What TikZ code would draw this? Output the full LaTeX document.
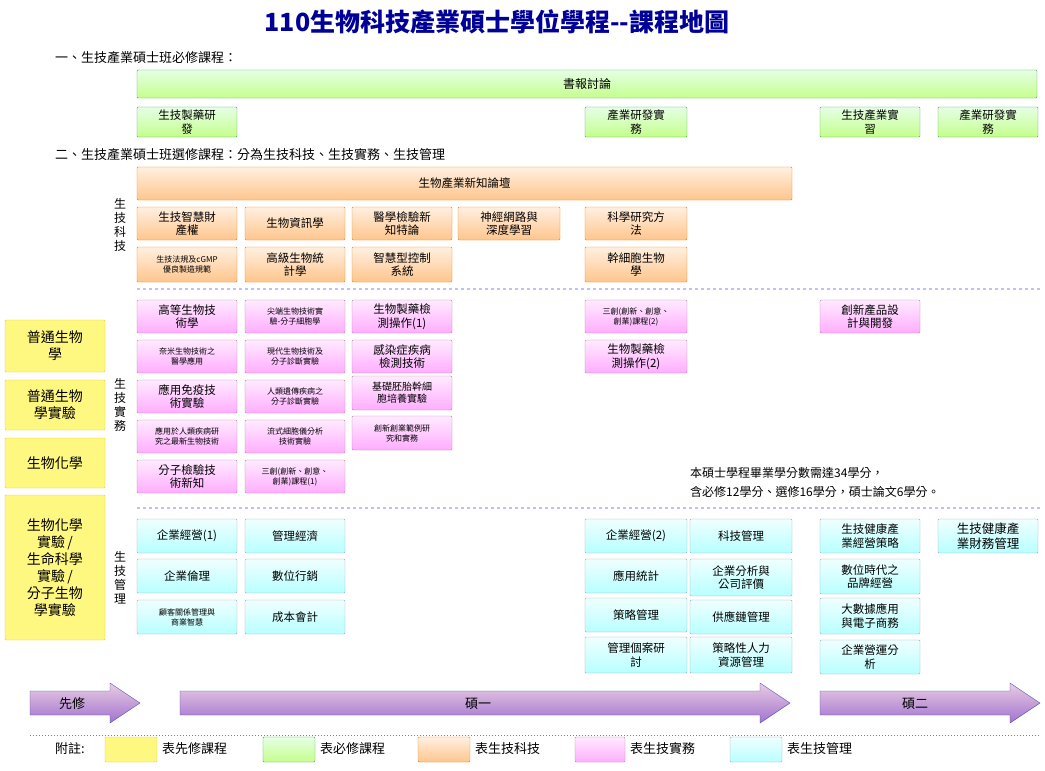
\documentclass[tikz,border=0pt]{standalone}
\usepackage{fontspec}
\setmainfont{Noto Sans CJK TC}
\begin{document}
\begin{tikzpicture}[x=1pt,y=-1pt,
 base/.style={draw,rounded corners=1pt,inner sep=0pt,align=center,font=\fontsize{11.5}{13.5}\selectfont},
 gr/.style={base,draw=green!50!black!70,top color=green!10,bottom color=green!35!lime!45},
 og/.style={base,draw=orange!70!brown,top color=orange!12,bottom color=orange!45},
 pk/.style={base,draw=magenta!50!black!60,top color=magenta!8,bottom color=magenta!32},
 tl/.style={base,draw=cyan!40!black!50,top color=cyan!6,bottom color=cyan!28},
 yl/.style={base,draw=yellow!60!brown,fill=yellow!50,font=\fontsize{14}{17}\selectfont},
 small/.style={font=\fontsize{8}{10}\selectfont},
 vl/.style={align=center,font=\fontsize{12}{14}\selectfont,inner sep=0pt},
 hd/.style={anchor=west,font=\fontsize{13}{15}\selectfont,inner sep=0pt},
 arr/.style={draw=blue!50!black!70,top color=blue!25!purple!20,bottom color=blue!55!purple!55},
 lab/.style={font=\fontsize{13}{15}\selectfont,inner sep=0pt}]
\useasboundingbox (0,0) rectangle (1045,771);
\newcommand\bx[7]{\pgfmathsetmacro\bw{#5-#3}\pgfmathsetmacro\bh{#6-#4}%
 \node[#1,minimum width=\bw pt,minimum height=\bh pt] (#2) at ({(#3+#5)/2},{(#4+#6)/2}) {#7};}
\node[font=\bfseries\fontsize{25}{28}\selectfont,text=blue!60!black] (title) at (497,22) {110生物科技產業碩士學位學程{-}{-}課程地圖};
\node[hd] (h1) at (55,58) {一、生技產業碩士班必修課程：};
\bx{gr,font=\fontsize{12}{14}\selectfont}{g0}{137}{70}{1037}{98}{書報討論}
\bx{gr}{g1}{137}{107}{237}{137}{生技製藥研\\發}
\bx{gr}{g2}{585}{107}{687}{137}{產業研發實\\務}
\bx{gr}{g3}{820}{107}{920}{137}{生技產業實\\習}
\bx{gr}{g4}{938}{107}{1038}{137}{產業研發實\\務}
\node[hd] (h2) at (55,155) {二、生技產業碩士班選修課程：分為生技科技、生技實務、生技管理};
\bx{og}{o0}{137}{167}{792}{200}{生物產業新知論壇}
\bx{og}{o1}{137}{207}{237}{240}{生技智慧財\\產權}
\bx{og}{o2}{245}{207}{345}{240}{生物資訊學}
\bx{og}{o3}{352}{207}{452}{240}{醫學檢驗新\\知特論}
\bx{og}{o4}{458}{207}{560}{240}{神經網路與\\深度學習}
\bx{og}{o5}{585}{207}{687}{240}{科學研究方\\法}
\bx{og,small}{o6}{137}{247}{237}{282}{生技法規及cGMP\\優良製造規範}
\bx{og}{o7}{245}{247}{345}{282}{高級生物統\\計學}
\bx{og}{o8}{352}{247}{452}{282}{智慧型控制\\系統}
\bx{og}{o9}{585}{247}{687}{282}{幹細胞生物\\學}
\node[vl] (v1) at (120,225) {生\\技\\科\\技};
\draw[dashed,line width=2.5pt,draw=blue!25] (137,289) -- (1040,289) coordinate (d1);
\bx{pk}{p1}{137}{300}{237}{333}{高等生物技\\術學}
\bx{pk,small}{p2}{137}{340}{237}{373}{奈米生物技術之\\醫學應用}
\bx{pk}{p3}{137}{380}{237}{413}{應用免疫技\\術實驗}
\bx{pk,small}{p4}{137}{420}{237}{453}{應用於人類疾病研\\究之最新生物技術}
\bx{pk}{p5}{137}{460}{237}{493}{分子檢驗技\\術新知}
\bx{pk,small}{q1}{245}{300}{345}{333}{尖端生物技術實\\驗-分子細胞學}
\bx{pk,small}{q2}{245}{340}{345}{373}{現代生物技術及\\分子診斷實驗}
\bx{pk,small}{q3}{245}{380}{345}{413}{人類遺傳疾病之\\分子診斷實驗}
\bx{pk,small}{q4}{245}{420}{345}{453}{流式細胞儀分析\\技術實驗}
\bx{pk,small}{q5}{245}{460}{345}{493}{三創(創新、創意、\\創業)課程(1)}
\bx{pk}{r1}{352}{300}{452}{333}{生物製藥檢\\測操作(1)}
\bx{pk}{r2}{352}{340}{452}{373}{感染症疾病\\檢測技術}
\bx{pk,font=\fontsize{10}{12}\selectfont}{r3}{352}{376}{452}{410}{基礎胚胎幹細\\胞培養實驗}
\bx{pk,small}{r4}{352}{416}{452}{450}{創新創業範例研\\究和實務}
\bx{pk,small}{s1}{585}{300}{687}{333}{三創(創新、創意、\\創業)課程(2)}
\bx{pk}{s2}{585}{340}{687}{373}{生物製藥檢\\測操作(2)}
\bx{pk}{s3}{820}{300}{920}{333}{創新產品設\\計與開發}
\node[vl] (v2) at (120,405) {生\\技\\實\\務};
\bx{yl}{y1}{5}{320}{105}{372}{普通生物\\學}
\bx{yl}{y2}{5}{380}{105}{430}{普通生物\\學實驗}
\bx{yl}{y3}{5}{438}{105}{488}{生物化學}
\bx{yl}{y4}{5}{495}{105}{640}{生物化學\\實驗\,/\\生命科學\\實驗\,/\\分子生物\\學實驗}
\node[anchor=west,align=left,font=\fontsize{12}{19}\selectfont,inner sep=0pt] (note) at (690,482) {本碩士學程畢業學分數需達34學分，\\含必修12學分、選修16學分，碩士論文6學分。};
\draw[dashed,line width=1.2pt,draw=blue!25] (137,508) -- (1040,508) coordinate (d2);
\bx{tl}{t1}{137}{519}{237}{553}{企業經營(1)}
\bx{tl}{t2}{137}{559}{237}{593}{企業倫理}
\bx{tl,small}{t3}{137}{600}{237}{634}{顧客關係管理與\\商業智慧}
\bx{tl}{u1}{245}{519}{345}{553}{管理經濟}
\bx{tl}{u2}{245}{559}{345}{593}{數位行銷}
\bx{tl}{u3}{245}{600}{345}{634}{成本會計}
\bx{tl}{w1}{585}{519}{687}{553}{企業經營(2)}
\bx{tl}{w2}{585}{559}{687}{593}{應用統計}
\bx{tl}{w3}{585}{598}{687}{632}{策略管理}
\bx{tl}{w4}{585}{637}{687}{673}{管理個案研\\討}
\bx{tl}{x1}{690}{519}{792}{553}{科技管理}
\bx{tl}{x2}{690}{559}{792}{596}{企業分析與\\公司評價}
\bx{tl}{x3}{690}{600}{792}{634}{供應鏈管理}
\bx{tl}{x4}{690}{637}{792}{673}{策略性人力\\資源管理}
\bx{tl}{z1}{820}{519}{920}{553}{生技健康產\\業經營策略}
\bx{tl}{z2}{820}{559}{920}{594}{數位時代之\\品牌經營}
\bx{tl}{z3}{820}{598}{920}{634}{大數據應用\\與電子商務}
\bx{tl}{z4}{820}{640}{920}{674}{企業營運分\\析}
\bx{tl,font=\fontsize{12.5}{14.5}\selectfont}{z5}{938}{519}{1038}{553}{生技健康產\\業財務管理}
\node[vl] (v3) at (120,578) {生\\技\\管\\理};
\path[arr] (30,691) -- (110,691) -- (110,683) -- (140,703) -- (110,723) -- (110,715) -- (30,715) -- cycle;
\path[arr] (180,691) -- (760,691) -- (760,683) -- (790,703) -- (760,723) -- (760,715) -- (180,715) -- cycle;
\path[arr] (820,691) -- (1010,691) -- (1010,683) -- (1040,703) -- (1010,723) -- (1010,715) -- (820,715) -- cycle;
\node[lab] (a1) at (72,704) {先修};
\node[lab] (a2) at (478,704) {碩一};
\node[lab] (a3) at (915,704) {碩二};
\draw[dotted,line width=1pt,draw=gray] (30,735) -- (1040,735) coordinate (d3);
\node[hd] (fn) at (55,749) {附註:};
\path[yl] (105,737) rectangle (157,762); \node[hd] (l1) at (162,749) {表先修課程};
\path[gr] (263,737) rectangle (315,762); \node[hd] (l2) at (320,749) {表必修課程};
\path[og] (418,737) rectangle (470,762); \node[hd] (l3) at (475,749) {表生技科技};
\path[pk] (575,737) rectangle (625,762); \node[hd] (l4) at (630,749) {表生技實務};
\path[tl] (730,737) rectangle (782,762); \node[hd] (l5) at (787,749) {表生技管理};
\end{tikzpicture}
\end{document}
